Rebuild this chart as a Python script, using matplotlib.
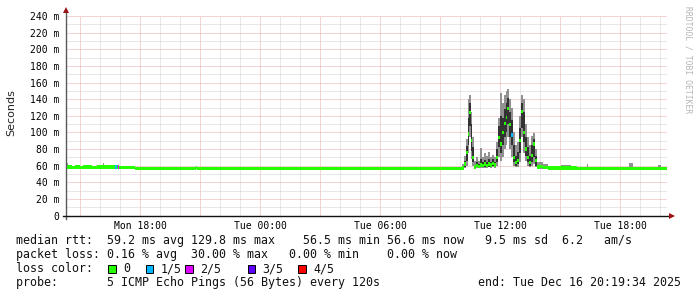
import numpy as np
import matplotlib.pyplot as plt
from matplotlib.patches import Rectangle

# sample intervals: start time in hours since Mon 00:00
hours = [14.33, 14.40, 14.60, 14.75, 15.00, 15.15, 15.60, 15.85, 16.15, 16.22,
         16.75, 16.85, 16.90, 16.95, 17.75, 20.78, 20.85, 23.20, 23.60, 27.90,
         28.20, 34.10, 34.20, 34.30, 34.40, 34.45, 34.55, 34.62, 34.70, 34.80,
         34.90, 35.00, 35.10, 35.20, 35.30, 35.40, 35.50, 35.60, 35.70, 35.80,
         35.90, 36.00, 36.10, 36.20, 36.30, 36.37, 36.45, 36.55, 36.65, 36.75,
         36.85, 36.95, 37.05, 37.15, 37.25, 37.35, 37.45, 37.55, 37.65, 37.75,
         37.85, 38.00, 38.15, 38.40, 39.05, 39.55, 39.85, 40.35, 40.42, 42.45,
         42.65, 43.90, 44.05]
t_start = 14.326
t_end = 44.326

# median rtt (ms)
median = [58.7, 58.7, 57.8, 58.7, 57.8, 58.7, 57.8, 58.7, 58.7, 58.7,
          58.7, 58.7, 58.7, 58.2, 56.7, 57.8, 56.7, 56.7, 56.7, 56.7,
          56.7, 57.5, 62, 76, 98, 124, 90, 70, 58.5, 60,
          59, 61, 60, 62, 60, 62, 61, 63, 61, 70,
          94, 86, 100, 111, 118, 129, 110, 97, 70, 64,
          66, 90, 125, 100, 80, 70, 64, 72, 86, 66,
          58.5, 59, 58, 57.2, 57.2, 57.2, 56.7, 56.7, 56.7, 56.7,
          56.7, 56.7, 56.7]

# smoke: outer (min..max ping) and inner (2nd..4th ping)
outer_lo = [57.5, 57.5, 57.0, 57.5, 57.0, 57.5, 57.0, 57.5, 57.5, 57.5,
            57.5, 57.5, 57.5, 57.3, 56.0, 56.5, 56.0, 56.0, 56.0, 56.0,
            56.0, 56.2, 57, 60, 75, 95, 68, 60, 56.5, 57,
            57, 57, 57, 57.5, 57, 58, 57, 58, 57, 60,
            70, 66, 70, 80, 85, 95, 80, 70, 60, 58,
            58, 65, 95, 75, 66, 60, 58, 60, 62, 58,
            56.5, 56.5, 56.5, 56.3, 56.3, 56.3, 56.0, 56.0, 56.0, 56.0,
            56.0, 56.0, 56.0]
outer_hi = [63.5, 59.5, 58.8, 60.0, 58.8, 59.5, 58.8, 59.5, 63.5, 59.5,
            60.0, 61.5, 61.5, 59.0, 57.6, 59.0, 58.6, 59.0, 57.6, 58.8,
            57.6, 62.0, 72, 92, 140, 145, 125, 95, 66, 70,
            66, 81, 70, 75, 72, 76, 71, 73, 70, 88,
            118, 147, 135, 145, 150, 152, 140, 130, 100, 85,
            88, 120, 145, 140, 110, 95, 85, 96, 99, 80,
            65, 64, 62, 58.2, 61.0, 58.2, 57.6, 62.0, 57.6, 63.7,
            57.6, 61.5, 57.6]
inner_lo = [58.0, 58.0, 57.3, 58.0, 57.3, 58.0, 57.3, 58.0, 58.0, 58.0,
            58.0, 58.0, 58.0, 57.8, 56.3, 57.0, 56.3, 56.3, 56.3, 56.3,
            56.3, 56.8, 59, 66, 85, 108, 78, 64, 57.5, 58,
            58, 58.5, 58, 59, 58, 59, 58, 60, 58, 64,
            82, 75, 85, 95, 100, 110, 95, 85, 64, 60,
            62, 75, 105, 88, 72, 64, 60, 65, 70, 60,
            57.5, 57.5, 57.2, 56.7, 56.7, 56.7, 56.3, 56.3, 56.3, 56.3,
            56.3, 56.3, 56.3]
inner_hi = [59.5, 59.2, 58.3, 59.2, 58.3, 59.2, 58.3, 59.2, 60.0, 59.2,
            59.2, 60.0, 60.0, 58.6, 57.1, 58.4, 57.1, 57.3, 57.1, 57.2,
            57.1, 59.0, 66, 84, 118, 136, 110, 82, 61, 64,
            62, 68, 64, 67, 65, 68, 65, 68, 64, 80,
            108, 120, 118, 128, 135, 142, 125, 115, 85, 72,
            76, 105, 135, 125, 95, 82, 72, 85, 92, 72,
            61, 61, 59.5, 57.7, 58.5, 57.7, 57.1, 58.0, 57.1, 59.0,
            57.1, 58.0, 57.1]

# lost pings out of 5
loss = [0, 0, 0, 0, 0, 0, 0, 0, 0, 0,
        1, 0, 2, 0, 0, 0, 0, 0, 0, 0,
        0, 0, 0, 0, 0, 0, 0, 0, 0, 0,
        0, 0, 0, 0, 0, 0, 0, 0, 0, 0,
        0, 0, 0, 0, 0, 0, 0, 1, 0, 0,
        0, 0, 0, 0, 0, 0, 0, 0, 0, 0,
        0, 0, 0, 0, 0, 0, 0, 0, 0, 0,
        0, 0, 0]

loss_colors = {0: "#26ff00", 1: "#00b8ff", 2: "#dd00ff", 3: "#5e00ff", 4: "#ff0000"}
loss_labels = ["0", "1/5", "2/5", "3/5", "4/5"]

tick_hours = [18, 24, 30, 36, 42]
tick_names = ["Mon 18:00", "Tue 00:00", "Tue 06:00", "Tue 12:00", "Tue 18:00"]

stats_lines = [
    "median rtt:  59.2 ms avg 129.8 ms max    56.5 ms min 56.6 ms now   9.5 ms sd  6.2   am/s",
    "packet loss: 0.16 % avg  30.00 % max   0.00 % min    0.00 % now",
]
probe_text = "probe:       5 ICMP Echo Pings (56 Bytes) every 120s"
end_text = "end: Tue Dec 16 20:19:34 2025"

MONO = "DejaVu Sans Mono"
W, H = 697, 297
left, right, top, bottom = 66.5, 666.5, 16.0, 215.7


def fx(x):
    return x / W


def fy(y):
    return 1 - y / H


fig = plt.figure(figsize=(W / 100, H / 100), dpi=100)
fig.patch.set_facecolor("white")
ax = fig.add_axes([fx(left), fy(bottom), (right - left) / W, (bottom - top) / H])
ax.set_xlim(t_start, t_end)
ax.set_ylim(0, 240)
for s in ax.spines.values():
    s.set_visible(False)

# grid: hourly minor / 3-hourly major, 10 ms minor / 20 ms major
dots = (0, (1, 1))
for h in range(15, 45):
    col = "#e8aaaa" if h % 3 == 0 else "#d0d0d0"
    ax.axvline(h, color=col, lw=0.72, ls=dots, zorder=0)
for v in range(10, 241, 10):
    col = "#e8aaaa" if v % 20 == 0 else "#d0d0d0"
    ax.axhline(v, color=col, lw=0.72, ls=dots, zorder=0)

# smoke and median band
x = np.array(hours + [t_end])


def ext(a):
    return np.array(a + [a[-1]], dtype=float)


ax.fill_between(x, ext(outer_lo), ext(outer_hi), step="post", color="#919191", lw=0, zorder=2)
ax.fill_between(x, ext(inner_lo), ext(inner_hi), step="post", color="#323232", lw=0, zorder=3)

hw = 2.0
med = ext(median)
ax.fill_between(x, med - hw, med + hw, step="post", color=loss_colors[0], lw=0, zorder=4)
widths = np.diff(x)
for i, n in enumerate(loss):
    if n > 0:
        ax.bar(hours[i], 2 * hw, width=widths[i], bottom=median[i] - hw, align="edge",
               color=loss_colors[n], lw=0, zorder=5)

# ticks
ax.set_yticks(range(0, 241, 20))
ax.set_yticklabels(["0"] + [f"{v} m" for v in range(20, 241, 20)])
ax.set_xticks(tick_hours)
ax.set_xticklabels(tick_names)
ax.tick_params(axis="y", length=0, pad=5, labelsize=7)
ax.tick_params(axis="x", length=0, pad=4, labelsize=7)
for lab in ax.get_xticklabels() + ax.get_yticklabels():
    lab.set_family(MONO)

# axes with arrows
px_h = (t_end - t_start) / (right - left)
px_v = 240 / (bottom - top)
ax.plot([t_start, t_start], [-3 * px_v, 240 + 4 * px_v], color="#5a5a5a", lw=1, clip_on=False, zorder=6)
ax.plot([t_start - 3 * px_h, t_end + 3 * px_h], [0, 0], color="#111111", lw=1, clip_on=False, zorder=6)
ax.plot([t_start], [240 + 6.5 * px_v], marker="^", ms=4.5, color="#9b1414", mew=0, clip_on=False, zorder=7)
ax.plot([t_end + 5 * px_h], [0], marker=">", ms=4.5, color="#9b1414", mew=0, clip_on=False, zorder=7)

fig.text(fx(11), fy(113), "Seconds", rotation=90, fontsize=8, family="DejaVu Sans",
         ha="center", va="center", color="#222222")
fig.text(fx(688), fy(60), "RRDTOOL / TOBI OETIKER", rotation=270, fontsize=5.8,
         family=MONO, ha="center", va="center", color="#b4b4b4")

# legend block
txt = dict(fontsize=8.4, family=MONO, color="#111111", va="baseline")
fig.text(fx(16), fy(244), stats_lines[0], ha="left", **txt)
fig.text(fx(16), fy(258), stats_lines[1], ha="left", **txt)
fig.text(fx(16), fy(272), "loss color:", ha="left", **txt)
sq_x = [108.3, 145.7, 185.3, 247.7, 298.0]
for k, (sx, lab) in enumerate(zip(sq_x, loss_labels)):
    fig.patches.append(Rectangle((fx(sx), fy(272.5)), 7.5 / W, 7.5 / H, transform=fig.transFigure,
                                 facecolor=loss_colors[k], edgecolor="#000000", lw=0.7))
    fig.text(fx(sx + 15), fy(272), lab, ha="left", **txt)
fig.text(fx(16), fy(286), probe_text, ha="left", **txt)
fig.text(fx(478), fy(286), end_text, ha="left", **txt)

fig.savefig("out.png", dpi=100, facecolor="white")
